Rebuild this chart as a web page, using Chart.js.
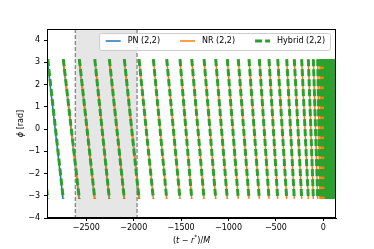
<!DOCTYPE html>
<html>
<head>
<meta charset="utf-8">
<script src="https://cdn.jsdelivr.net/npm/chart.js@4/dist/chart.umd.min.js"></script>
<style>
  html, body { margin: 0; background: #fff; }
</style>
</head>
<body>
<canvas id="phase-chart" width="374" height="249"></canvas>
<script>
/* times (t - r*)/M where the wrapped phase jumps back to +pi */
const pnWraps = [-3080, -2912, -2746, -2576, -2412, -2258, -2099, -1944];
const nrWraps = [-2743, -2574, -2411, -2257, -2099, -1944, -1793, -1652, -1512,
  -1388, -1258, -1135, -1013, -897, -784, -675, -573, -481, -386, -306, -228,
  -158, -105, -59, -35, -20, -8, 2, 11, 20, 29];
const hybridWraps = [-3075, -2907, -2743, -2574, -2411, -2257, -2099, -1944, -1793,
  -1652, -1512, -1388, -1258, -1135, -1013, -897, -784, -675, -573, -481, -386,
  -306, -228, -158, -105, -59, -35, -20, -8, 2, 11, 20, 29, 38, 47, 56, 65, 74,
  83, 92, 101, 110, 119, 128, 137];

/* hybridisation window */
const windowStart = -2616;
const windowEnd = -1965;

const xRange = [-2915, 134];
const yRange = [-4, 4.5];
const xTicks = [-2500, -2000, -1500, -1000, -500, 0];
const yTicks = [-4, -3, -2, -1, 0, 1, 2, 3, 4];

const seriesNames = ['PN (2,2)', 'NR (2,2)', 'Hybrid (2,2)'];
const seriesColors = ['#1f77b4', '#ff7f0e', '#2ca02c'];

const FONT = 'DejaVu Sans';

/* each cycle: phase falls from +pi at one wrap to -pi at the next, then breaks */
function sawtooth(wraps) {
  const pts = [];
  for (let i = 0; i < wraps.length - 1; i++) {
    pts.push({ x: wraps[i], y: Math.PI });
    pts.push({ x: wraps[i + 1], y: -Math.PI });
    pts.push({ x: wraps[i + 1], y: null });
  }
  return pts;
}

function minus(v) {
  return String(v).replace('-', '\u2212');
}

/* shaded window, frame, legend and axis labels */
const decorPlugin = {
  id: 'decor',
  beforeDatasetsDraw(chart) {
    const { ctx, chartArea: a, scales: { x } } = chart;
    const x0 = x.getPixelForValue(windowStart);
    const x1 = x.getPixelForValue(windowEnd);
    ctx.save();
    ctx.fillStyle = 'rgba(128,128,128,0.2)';
    ctx.fillRect(x0, a.top, x1 - x0, a.bottom - a.top);
    ctx.strokeStyle = '#8c8c8c';
    ctx.lineWidth = 1.4;
    ctx.setLineDash([4, 2]);
    [x0, x1].forEach(px => {
      ctx.beginPath();
      ctx.moveTo(px, a.top);
      ctx.lineTo(px, a.bottom);
      ctx.stroke();
    });
    ctx.restore();
  },
  afterDatasetsDraw(chart) {
    const { ctx, chartArea: a } = chart;
    ctx.save();

    // frame
    ctx.strokeStyle = '#000';
    ctx.lineWidth = 1;
    ctx.strokeRect(Math.round(a.left) + 0.5, Math.round(a.top) + 0.5,
      Math.round(a.right - a.left) - 1, Math.round(a.bottom - a.top) - 1);

    // legend
    ctx.font = '8px "' + FONT + '"';
    const handle = 15, gapIn = 7, gapOut = 20, padL = 7, padR = 5;
    let w = padL + padR;
    seriesNames.forEach((n, i) => {
      w += handle + gapIn + ctx.measureText(n).width;
      if (i < seriesNames.length - 1) w += gapOut;
    });
    const bx = a.right - 6 - w, by = a.top + 3.5, bh = 17;
    ctx.fillStyle = 'rgba(255,255,255,0.85)';
    ctx.strokeStyle = '#cccccc';
    ctx.beginPath();
    ctx.roundRect(Math.round(bx) + 0.5, Math.round(by) + 0.5, Math.round(w), bh, 2);
    ctx.fill();
    ctx.stroke();
    let cx = bx + padL;
    const cy = by + bh / 2;
    seriesNames.forEach((n, i) => {
      ctx.strokeStyle = seriesColors[i];
      ctx.lineWidth = i === 2 ? 3 : 1.5;
      ctx.setLineDash(i === 2 ? [7, 3] : []);
      ctx.beginPath();
      ctx.moveTo(cx, cy);
      ctx.lineTo(cx + handle, cy);
      ctx.stroke();
      ctx.setLineDash([]);
      cx += handle + gapIn;
      ctx.fillStyle = '#000';
      ctx.textBaseline = 'middle';
      ctx.textAlign = 'left';
      ctx.fillText(n, cx, cy);
      cx += ctx.measureText(n).width + gapOut;
    });

    // x label: (t − r*)/M
    const parts = [
      ['(', 'normal', 8, 0], ['t', 'italic', 8, 0], [' \u2212 ', 'normal', 8, 0],
      ['r', 'italic', 8, 0], ['*', 'normal', 6, -3], [')/', 'normal', 8, 0],
      ['M', 'italic', 8, 0]
    ];
    let total = 0;
    parts.forEach(p => {
      ctx.font = p[1] + ' ' + p[2] + 'px "' + FONT + '"';
      total += ctx.measureText(p[0]).width;
    });
    let lx = (a.left + a.right) / 2 - total / 2;
    const ly = 240.5;
    ctx.textBaseline = 'middle';
    ctx.textAlign = 'left';
    ctx.fillStyle = '#000';
    parts.forEach(p => {
      ctx.font = p[1] + ' ' + p[2] + 'px "' + FONT + '"';
      ctx.fillText(p[0], lx, ly + p[3]);
      lx += ctx.measureText(p[0]).width;
    });

    // y label: ϕ [rad]
    ctx.translate(21, (a.top + a.bottom) / 2);
    ctx.rotate(-Math.PI / 2);
    ctx.font = 'italic 8px "' + FONT + '"';
    const phi = '\u03D5';
    const rest = ' [rad]';
    const wPhi = ctx.measureText(phi).width;
    ctx.font = '8px "' + FONT + '"';
    const wRest = ctx.measureText(rest).width;
    const sx = -(wPhi + wRest) / 2;
    ctx.font = 'italic 8px "' + FONT + '"';
    ctx.fillText(phi, sx, 0);
    ctx.font = '8px "' + FONT + '"';
    ctx.fillText(rest, sx + wPhi, 0);

    ctx.restore();
  }
};

new Chart(document.getElementById('phase-chart'), {
  type: 'line',
  data: {
    datasets: [
      {
        label: seriesNames[0],
        data: sawtooth(pnWraps),
        borderColor: seriesColors[0],
        borderWidth: 1.5,
        order: 3
      },
      {
        label: seriesNames[1],
        data: sawtooth(nrWraps),
        borderColor: seriesColors[1],
        borderWidth: 1.5,
        order: 2
      },
      {
        label: seriesNames[2],
        data: sawtooth(hybridWraps),
        borderColor: seriesColors[2],
        borderWidth: 3,
        borderDash: [7, 3],
        // ringdown cycles are packed so tightly they read as a solid block
        segment: {
          borderDash: ctx => (ctx.p0.parsed.x >= 20 ? [] : undefined)
        },
        order: 1
      }
    ]
  },
  options: {
    responsive: false,
    animation: false,
    devicePixelRatio: 1,
    spanGaps: false,
    elements: { point: { radius: 0 }, line: { tension: 0, fill: false } },
    layout: { padding: { left: 0, top: 29, right: 38, bottom: 0 } },
    plugins: { legend: { display: false }, tooltip: { enabled: false } },
    scales: {
      x: {
        type: 'linear',
        min: xRange[0],
        max: xRange[1],
        afterBuildTicks: s => { s.ticks = xTicks.map(v => ({ value: v })); },
        afterFit: s => { s.height = 31; },
        grid: { drawOnChartArea: false, tickLength: 3, color: '#000' },
        border: { color: '#000' },
        ticks: {
          color: '#000', padding: 2, maxRotation: 0,
          font: { family: FONT, size: 8 },
          callback: v => minus(v)
        }
      },
      y: {
        type: 'linear',
        min: yRange[0],
        max: yRange[1],
        afterBuildTicks: s => { s.ticks = yTicks.map(v => ({ value: v })); },
        afterFit: s => { s.width = 47; },
        grid: { drawOnChartArea: false, tickLength: 3, color: '#000' },
        border: { color: '#000' },
        ticks: {
          color: '#000', padding: 4,
          font: { family: FONT, size: 8 },
          callback: v => minus(v)
        }
      }
    }
  },
  plugins: [decorPlugin]
});
</script>
</body>
</html>
